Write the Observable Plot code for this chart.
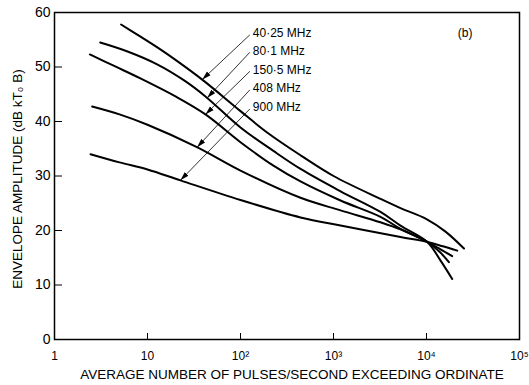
<!DOCTYPE html>
<html>
<head>
<meta charset="utf-8">
<script src="https://cdn.jsdelivr.net/npm/d3@7"></script>
<script src="https://cdn.jsdelivr.net/npm/@observablehq/plot@0.6"></script>
<style>
  html, body { margin: 0; padding: 0; background: #fff; }
  #chart svg { display: block; }
</style>
</head>
<body>
<div id="chart"></div>
<script>
// Envelope amplitude (dB kT0B) against average pulses/second exceeding the ordinate
const f40 = [[5.2,57.8],[8,55.8],[13,53.5],[20,51.3],[40,47.5],[100,41.9],[200,37.8],[442,33.8],[1000,30.0],[3200,25.8],[5250,24.1],[10000,22.1],[16000,19.8],[25300,16.7]];
const f80 = [[3.1,54.5],[6,52.9],[12.7,50.5],[25,47.5],[42,44.6],[100,38.9],[226,34.6],[442,31.3],[1190,27.2],[3200,23.4],[5250,20.9],[10200,17.9],[14000,14.6],[18900,11.1]];
const f150 = [[2.4,52.3],[4.5,50.1],[8.4,47.9],[20,44.6],[42,41.3],[100,36.2],[226,31.9],[442,29.0],[1190,25.5],[3200,22.5],[5250,20.3],[10200,17.9],[14000,16.0],[17400,14.2]];
const f408 = [[2.54,42.75],[5,41.3],[10,39.4],[34,35.3],[100,31.0],[442,26.0],[1190,23.7],[3200,21.5],[5250,20.2],[10200,17.9],[14000,16.6],[18900,15.3]];
const f900 = [[2.44,34.0],[5,32.5],[10,31.2],[22.6,29.2],[100,25.6],[442,22.4],[1190,20.9],[5250,18.8],[10200,17.9],[15000,17.1],[21400,16.3]];

const series = [f40, f80, f150, f408, f900];
const labels = ["40·25 MHz", "80·1 MHz", "150·5 MHz", "408 MHz", "900 MHz"];
const labelX = 126;                              // pulses/s where the labels start
const labelY = [56.2, 53.0, 49.5, 46.1, 42.6];   // dB, label rows
const tipX = [38.7, 43.8, 42, 34.2, 22.6];       // pulses/s where each pointer meets its curve

const xTicks = [1, 10, 1e2, 1e3, 1e4, 1e5];
const yTicks = [0, 10, 20, 30, 40, 50, 60];
const sup = {2: "²", 3: "³", 4: "⁴", 5: "⁵"};

// value of a curve at x, interpolated along log x (as drawn)
function valueAt(curve, x) {
  const lx = Math.log10(x);
  for (let i = 1; i < curve.length; i++) {
    const a = Math.log10(curve[i - 1][0]), b = Math.log10(curve[i][0]);
    if (lx <= b) return curve[i - 1][1] + (curve[i][1] - curve[i - 1][1]) * (lx - a) / (b - a);
  }
  return curve[curve.length - 1][1];
}

const lineRows = series.flatMap((c, k) => c.map(([x, y]) => ({x, y, k})));
const pointers = labels.map((t, i) => ({
  x1: labelX, y1: labelY[i] - 0.3, x2: tipX[i], y2: valueAt(series[i], tipX[i]), t
}));

function filledHead(color, context) {
  const ns = "http://www.w3.org/2000/svg";
  const doc = (context && context.document) || document;
  const m = doc.createElementNS(ns, "marker");
  m.setAttribute("viewBox", "0 -3 9 6");
  m.setAttribute("markerWidth", "9");
  m.setAttribute("markerHeight", "6");
  m.setAttribute("refX", "9");
  m.setAttribute("refY", "0");
  m.setAttribute("orient", "auto");
  m.setAttribute("markerUnits", "userSpaceOnUse");
  const p = doc.createElementNS(ns, "path");
  p.setAttribute("d", "M0,-2.6L9,0L0,2.6Z");
  p.setAttribute("fill", color);
  p.setAttribute("stroke", "none");
  m.appendChild(p);
  return m;
}

function build(head) {
  return Plot.plot({
    width: 529,
    height: 385,
    marginLeft: 54,
    marginRight: 10,
    marginTop: 12,
    marginBottom: 46,
    style: {fontFamily: "'Liberation Sans', Arial, sans-serif", fontSize: "12px", color: "#000", background: "#fff"},
    x: {type: "log", domain: [1, 1e5]},
    y: {domain: [0, 60]},
    marks: [
      Plot.frame({stroke: "#000", strokeWidth: 1.5}),
      Plot.axisY(yTicks, {tickSize: -8, tickPadding: 12, fontSize: 14, label: null, letterSpacing: 2.2}),
      Plot.axisX(xTicks, {
        tickSize: -6, tickPadding: 18, fontSize: 12, label: null, letterSpacing: 0.5,
        tickFormat: d => d < 100 ? String(d) : "10" + sup[Math.round(Math.log10(d))]
      }),
      Plot.line(lineRows, {x: "x", y: "y", z: "k", stroke: "#000", strokeWidth: 2, curve: "catmull-rom"}),
      Plot.link(pointers, {x1: "x1", y1: "y1", x2: "x2", y2: "y2", stroke: "#000", strokeWidth: 0.8, markerEnd: head}),
      Plot.text(pointers, {x: "x1", y: "y1", text: "t", textAnchor: "start", dx: 3, dy: -1.5, fontSize: 12, letterSpacing: 1.2}),
      Plot.text(["(b)"], {x: 26000, y: 56.2, text: d => d, fontSize: 12, letterSpacing: 2.5}),
      Plot.text(["ENVELOPE AMPLITUDE (dB kT\u2080 B)"], {
        frameAnchor: "left", rotate: -90, dx: -37, dy: 3, textAnchor: "middle", lineAnchor: "middle",
        text: d => d, fontSize: 13.5, letterSpacing: 1.4
      }),
      Plot.text(["AVERAGE NUMBER OF PULSES/SECOND EXCEEDING ORDINATE"], {
        frameAnchor: "bottom", dy: 35, dx: 5, textAnchor: "middle", lineAnchor: "middle",
        text: d => d, fontSize: 13.5, letterSpacing: 2.2
      })
    ]
  });
}

let chart;
try { chart = build(filledHead); } catch (e) { chart = build("arrow"); }
document.getElementById("chart").append(chart);
</script>
</body>
</html>
